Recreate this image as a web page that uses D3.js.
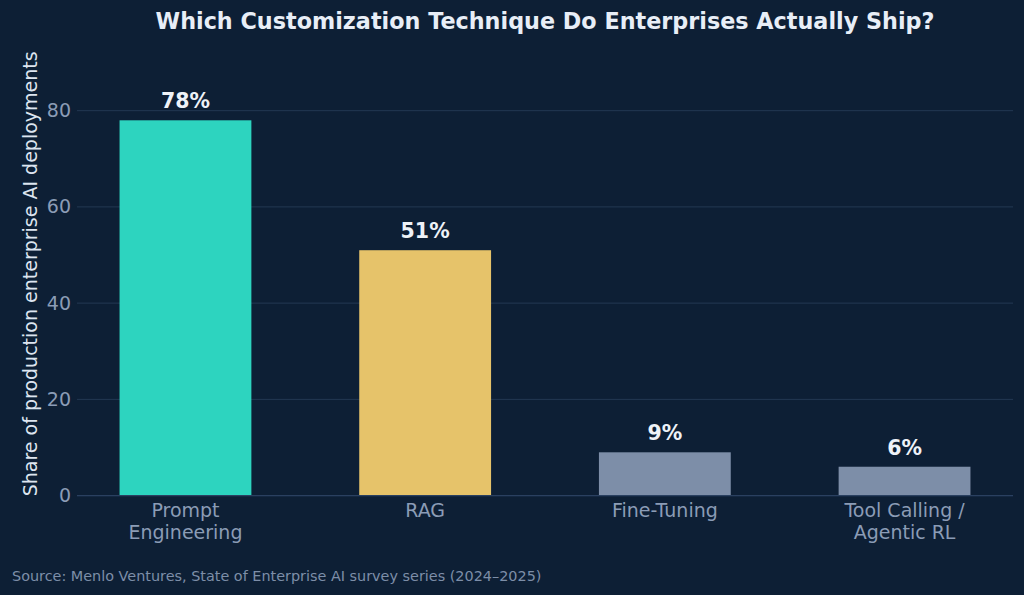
<!DOCTYPE html>
<html>
<head>
<meta charset="utf-8">
<script src="https://cdn.jsdelivr.net/npm/d3@7"></script>
<style>
  html, body { margin: 0; padding: 0; background: #0d1f35; }
  svg { display: block; font-family: "DejaVu Sans", sans-serif; }
</style>
</head>
<body>
<svg id="chart" width="1024" height="595"></svg>
<script>
// data
const categories = [['Prompt', 'Engineering'], ['RAG'], ['Fine-Tuning'], ['Tool Calling /', 'Agentic RL']]
const shares = [78, 51, 9, 6]
const barColors = ['#2dd4bf', '#e6c36a', '#7d8ea8', '#7d8ea8']
const yTicks = [0, 20, 40, 60, 80]

const width = 1024
const height = 595
const margin = { top: 64, right: 11, bottom: 100, left: 77 }

const svg = d3.select('#chart')

svg.append('rect')
  .attr('width', width)
  .attr('height', height)
  .attr('fill', '#0d1f35')

const x = d3.scaleLinear()
  .domain([-0.4525, categories.length - 1 + 0.4525])
  .range([margin.left, width - margin.right])

const y = d3.scaleLinear()
  .domain([0, d3.max(shares) * 1.15])
  .range([height - margin.bottom + 0.6, margin.top])

const barWidth = x(0.55) - x(0)

// gridlines
const grid = svg.append('g')
grid.selectAll('line')
  .data(yTicks)
  .enter()
  .append('line')
  .attr('x1', margin.left)
  .attr('x2', width - margin.right)
  .attr('y1', d => y(d))
  .attr('y2', d => y(d))
  .attr('stroke', '#233853')
  .attr('stroke-width', 1)

// y axis labels
const yAxis = svg.append('g')
  .attr('transform', `translate(${margin.left - 6},0)`)
  .call(d3.axisLeft(y).tickValues(yTicks).tickSize(0).tickPadding(0))
yAxis.select('.domain').remove()
yAxis.selectAll('text')
  .attr('fill', '#8b9cb6')
  .attr('font-size', 19)
  .attr('font-family', '"DejaVu Sans", sans-serif')

// bars
svg.append('g')
  .selectAll('rect')
  .data(shares)
  .enter()
  .append('rect')
  .attr('x', (d, i) => x(i) - barWidth / 2)
  .attr('y', d => y(d))
  .attr('width', barWidth)
  .attr('height', d => y(0) - y(d))
  .attr('fill', (d, i) => barColors[i])

// baseline
svg.append('line')
  .attr('x1', margin.left)
  .attr('x2', width - margin.right)
  .attr('y1', y(0))
  .attr('y2', y(0))
  .attr('stroke', '#2a4060')
  .attr('stroke-width', 1.2)

// value labels
svg.append('g')
  .selectAll('text')
  .data(shares)
  .enter()
  .append('text')
  .attr('x', (d, i) => x(i))
  .attr('y', d => y(d) - 12)
  .attr('text-anchor', 'middle')
  .attr('font-size', 20.5)
  .attr('font-weight', 'bold')
  .attr('fill', '#eef2f8')
  .text(d => `${d}%`)

// category labels
const catLabels = svg.append('g')
  .selectAll('text')
  .data(categories)
  .enter()
  .append('text')
  .attr('x', (d, i) => x(i))
  .attr('y', y(0) + 21)
  .attr('text-anchor', 'middle')
  .attr('font-size', 19)
  .attr('fill', '#8b9cb6')
catLabels.selectAll('tspan')
  .data(d => d)
  .enter()
  .append('tspan')
  .attr('x', function () { return this.parentNode.getAttribute('x') })
  .attr('dy', (d, i) => i === 0 ? 0 : 22)
  .text(d => d)

// y axis title
svg.append('text')
  .attr('transform', `translate(37,${(y(0) + margin.top) / 2 - 6}) rotate(-90)`)
  .attr('text-anchor', 'middle')
  .attr('font-size', 19)
  .attr('fill', '#dde5f0')
  .text('Share of production enterprise AI deployments')

// title
svg.append('text')
  .attr('x', (margin.left + width - margin.right) / 2)
  .attr('y', 29)
  .attr('text-anchor', 'middle')
  .attr('font-size', 22.3)
  .attr('font-weight', 'bold')
  .attr('fill', '#e8eef7')
  .text('Which Customization Technique Do Enterprises Actually Ship?')

// source note
svg.append('text')
  .attr('x', 12)
  .attr('y', 581)
  .attr('font-size', 14.4)
  .attr('fill', '#7d8ea8')
  .text('Source: Menlo Ventures, State of Enterprise AI survey series (2024–2025)')
</script>
</body>
</html>
